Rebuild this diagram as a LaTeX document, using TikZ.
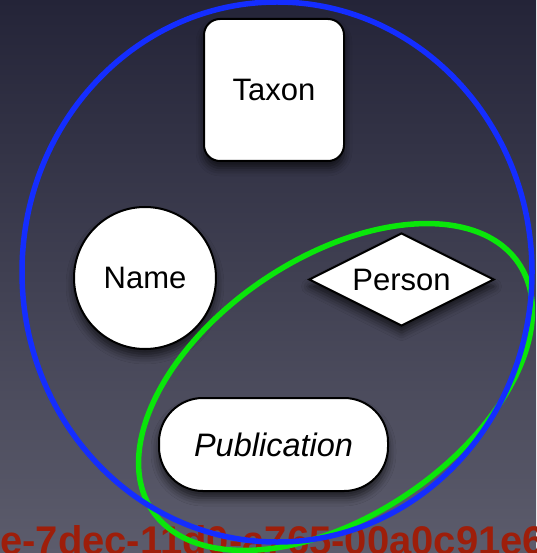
\documentclass[tikz,border=0pt]{standalone}
\usepackage{fontspec}
\setmainfont{Liberation Sans}
\usetikzlibrary{shapes.geometric,shadows.blur}
\definecolor{bgtop}{RGB}{36,36,56}
\definecolor{bgbot}{RGB}{92,92,108}
\definecolor{ringblue}{RGB}{20,45,255}
\definecolor{ringgreen}{RGB}{10,230,10}
\definecolor{idred}{RGB}{158,30,10}
\begin{document}
\begin{tikzpicture}[x=1pt,y=-1pt,
  entity/.style={draw=black, line width=2pt, fill=white, inner sep=0pt,
    font=\fontsize{31}{37}\selectfont,
    blur shadow={shadow xshift=0pt, shadow yshift=-7pt,
      shadow blur radius=8pt, shadow opacity=65}},
  ring/.style={line width=5.5pt}]
  \useasboundingbox (0,0) rectangle (536,553);
  % background
  \shade[top color=bgtop, bottom color=bgbot] (0,0) rectangle (536,553);
  % identifier running off the lower edge
  \begin{scope}
    \clip (0,0) rectangle (536,553);
    \node[anchor=base west, text=idred, inner sep=0pt,
      font=\bfseries\fontsize{40}{48}\selectfont] (uuid) at (0,554)
      {e-7dec-11d0-a765-00a0c91e6};
  \end{scope}
  % entities
  \node[entity, rectangle, rounded corners=16pt,
    minimum width=140pt, minimum height=142pt] (taxon) at (274,90) {Taxon};
  \node[entity, circle, minimum size=142pt] (name) at (145,278) {Name};
  \node[entity, diamond, shape aspect=2,
    minimum width=185pt, minimum height=93pt] (person) at (401.5,279.5) {Person};
  \node[entity, rectangle, rounded corners=44pt,
    minimum width=229pt, minimum height=93pt,
    font=\itshape\fontsize{32.5}{38}\selectfont] (pub) at (273.5,444.5) {Publication};
  % groupings
  \draw[ring, ringgreen, rotate around={34:(335.5,387)}]
    (335.5,387) ellipse [x radius=221, y radius=129];
  \draw[ring, ringblue] (277,272) ellipse [x radius=255, y radius=270];
\end{tikzpicture}
\end{document}
